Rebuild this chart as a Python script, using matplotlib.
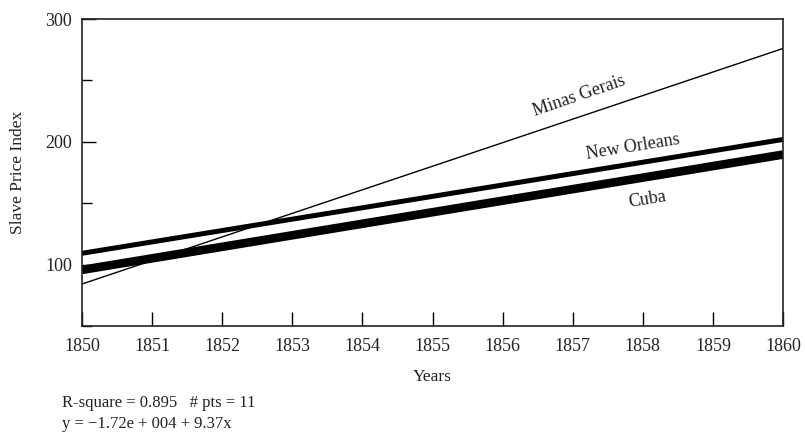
import matplotlib
matplotlib.use("Agg")
import matplotlib.pyplot as plt
from matplotlib.ticker import MultipleLocator

plt.rcParams['font.family'] = ['Liberation Serif', 'DejaVu Serif']

years = [1850, 1860]
minas = [84.2, 276.0]
new_orleans = [109.2, 201.9]
cuba = [95.7, 189.6]
xticks = list(range(1850, 1861))

TXT = '#222222'
fig = plt.figure(figsize=(8.05, 4.32), dpi=100)
ax = fig.add_axes([0.1019, 0.2454, 0.8708, 0.7106])

ax.plot(years, minas, color='black', lw=1.0, solid_capstyle='butt')
ax.plot(years, new_orleans, color='black', lw=3.6, solid_capstyle='butt')
ax.plot(years, cuba, color='black', lw=6.2, solid_capstyle='butt')

ax.set_xlim(1850, 1860)
ax.set_ylim(50, 300)
ax.set_xticks(xticks)
ax.set_yticks([100, 200, 300])
ax.yaxis.set_minor_locator(MultipleLocator(50))
ax.tick_params(axis='x', direction='in', length=10, width=1, labelsize=13, pad=9, labelcolor=TXT)
ax.tick_params(axis='y', which='major', direction='in', length=10, width=1, labelsize=13, pad=7, labelcolor=TXT)
ax.tick_params(axis='y', which='minor', direction='in', length=7, width=1)
for s in ax.spines.values():
    s.set_linewidth(1.2)
    s.set_color('#222222')

ax.set_xlabel('Years', fontsize=12.5, labelpad=10, color=TXT)
ax.set_ylabel('Slave Price Index', fontsize=12.5, labelpad=14, color=TXT)

ax.text(1857.09, 237, 'Minas Gerais', rotation=19, ha='center', va='center', fontsize=13, color=TXT)
ax.text(1857.86, 196, 'New Orleans', rotation=9.2, ha='center', va='center', fontsize=13, color=TXT)
ax.text(1858.07, 153, 'Cuba', rotation=9.2, ha='center', va='center', fontsize=13, color=TXT)

fig.text(62/805, 1 - 403/432, 'R-square = 0.895   # pts = 11', fontsize=12, va='center', ha='left', color=TXT)
fig.text(62/805, 1 - 424/432, 'y = \u22121.72e + 004 + 9.37x', fontsize=12, va='center', ha='left', color=TXT)

fig.savefig('out.png', dpi=100)
